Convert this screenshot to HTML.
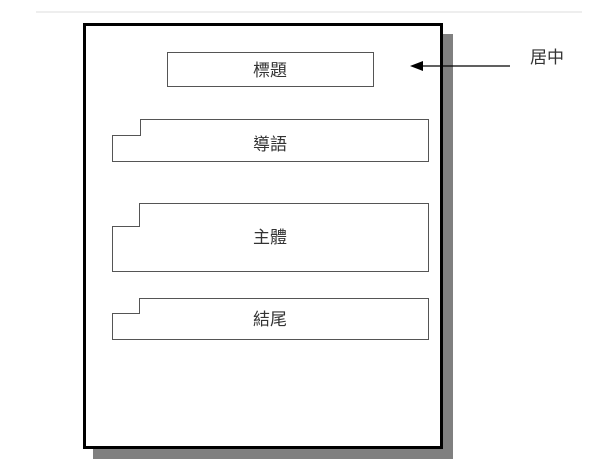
<!DOCTYPE html>
<html><head><meta charset="utf-8"><style>
html,body{margin:0;padding:0;background:#fff;width:600px;height:468px;overflow:hidden}
text{font-family:"Liberation Sans","Noto Sans CJK TC",sans-serif;font-size:17px;fill:#333}
</style></head><body>
<svg width="600" height="468" viewBox="0 0 600 468">
<line x1="36" y1="12" x2="582" y2="12" stroke="#eee" stroke-width="2"/>
<rect x="93" y="34" width="360" height="425" fill="#808080"/>
<rect x="84.5" y="24.5" width="357" height="423" fill="#fff" stroke="#000" stroke-width="3"/>
<rect x="167.5" y="52.5" width="206" height="34" fill="#fff" stroke="#555"/>
<text x="270" y="76" text-anchor="middle">標題</text>
<polygon points="140.5,119.5 428.5,119.5 428.5,161.5 112.5,161.5 112.5,135.5 140.5,135.5" fill="#fff" stroke="#555"/>
<text x="270" y="150" text-anchor="middle">導語</text>
<polygon points="139.5,203.5 428.5,203.5 428.5,271.5 112.5,271.5 112.5,226.5 139.5,226.5" fill="#fff" stroke="#555"/>
<text x="270" y="243" text-anchor="middle">主體</text>
<polygon points="139.5,298.5 428.5,298.5 428.5,339.5 112.5,339.5 112.5,313.5 139.5,313.5" fill="#fff" stroke="#555"/>
<text x="270" y="325" text-anchor="middle">結尾</text>
<line x1="420" y1="66" x2="510" y2="66" stroke="#000" stroke-width="1.2"/>
<polygon points="410,66 423,61 423,71" fill="#000"/>
<text x="530" y="63">居中</text>
</svg>
</body></html>
